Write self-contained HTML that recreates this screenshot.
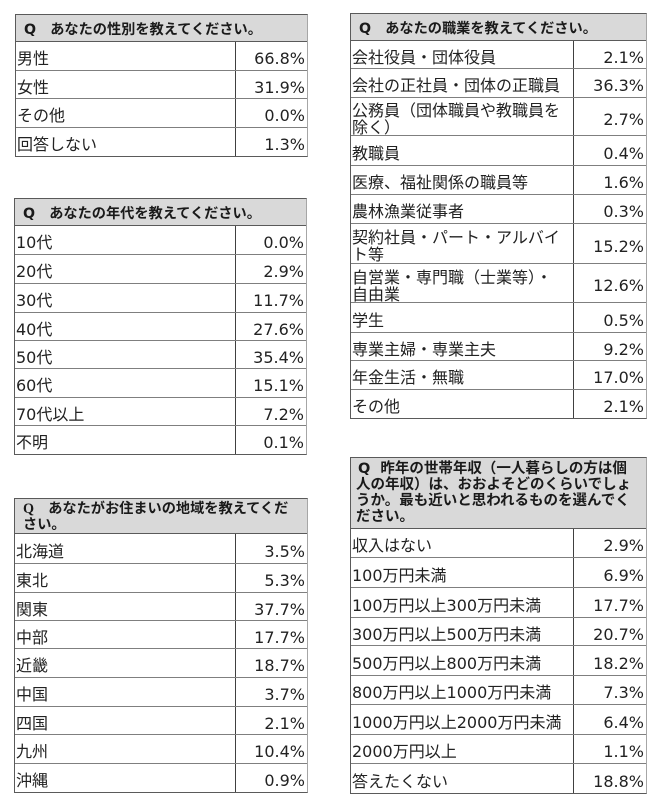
<!DOCTYPE html>
<html><head><meta charset="utf-8">
<style>
html,body{margin:0;padding:0}
body{width:661px;height:808px;background:#fff;position:relative;overflow:hidden;font-family:"DejaVu Sans","Noto Sans CJK JP",sans-serif;color:#222}
.t{position:absolute;box-sizing:border-box;border:1px solid #5a5a5a;border-right-color:#a6a6a6;background:#fff}
.h{box-sizing:border-box;background:#d9d9d9;font-weight:bold;font-size:14.2px;line-height:16px;display:flex;align-items:center;padding:3px 0 0 8px;white-space:nowrap;font-family:"DejaVu Sans","Noto Sans CJK JP",sans-serif;color:#1a1a1a}
.h2{align-items:flex-start;padding-top:2px}
.r{box-sizing:border-box;border-top:1px solid #7f7f7f;display:flex;font-size:16px;line-height:17px}
.r.f{border-top-color:#5a5a5a}
.l{box-sizing:border-box;width:var(--lw);padding:5px 0 0 1px;display:flex;align-items:center;white-space:nowrap}
.v{box-sizing:border-box;flex:1;border-left:1px solid #404040;padding:5px 2px 0 0;display:flex;align-items:center;justify-content:flex-end;white-space:nowrap}
.q{font-family:"Liberation Serif",serif;font-weight:bold}
</style></head><body>

<!-- Table 1: gender -->
<div class="t" style="left:15px;top:14px;width:293px;height:143px;--lw:219px">
 <div class="h" style="height:26px">Q　あなたの性別を教えてください。</div>
 <div class="r f" style="height:29px"><div class="l">男性</div><div class="v">66.8%</div></div>
 <div class="r" style="height:28px"><div class="l">女性</div><div class="v">31.9%</div></div>
 <div class="r" style="height:29px"><div class="l">その他</div><div class="v">0.0%</div></div>
 <div class="r" style="height:29px"><div class="l">回答しない</div><div class="v">1.3%</div></div>
</div>

<!-- Table 2: age -->
<div class="t" style="left:14px;top:198px;width:293px;height:257px;--lw:220px">
 <div class="h" style="height:26px">Q　あなたの年代を教えてください。</div>
 <div class="r f" style="height:29px"><div class="l">10代</div><div class="v">0.0%</div></div>
 <div class="r" style="height:29px"><div class="l">20代</div><div class="v">2.9%</div></div>
 <div class="r" style="height:29px"><div class="l">30代</div><div class="v">11.7%</div></div>
 <div class="r" style="height:28px"><div class="l">40代</div><div class="v">27.6%</div></div>
 <div class="r" style="height:28px"><div class="l">50代</div><div class="v">35.4%</div></div>
 <div class="r" style="height:29px"><div class="l">60代</div><div class="v">15.1%</div></div>
 <div class="r" style="height:28px"><div class="l">70代以上</div><div class="v">7.2%</div></div>
 <div class="r" style="height:29px"><div class="l">不明</div><div class="v">0.1%</div></div>
</div>

<!-- Table 3: region -->
<div class="t" style="left:14px;top:498px;width:294px;height:295px;--lw:220px">
 <div class="h h2" style="height:34px"><div><span class="q">Q</span>　あなたがお住まいの地域を教えてくだ<br>さい。</div></div>
 <div class="r f" style="height:30px"><div class="l">北海道</div><div class="v">3.5%</div></div>
 <div class="r" style="height:29px"><div class="l">東北</div><div class="v">5.3%</div></div>
 <div class="r" style="height:28px"><div class="l">関東</div><div class="v">37.7%</div></div>
 <div class="r" style="height:28px"><div class="l">中部</div><div class="v">17.7%</div></div>
 <div class="r" style="height:29px"><div class="l">近畿</div><div class="v">18.7%</div></div>
 <div class="r" style="height:29px"><div class="l">中国</div><div class="v">3.7%</div></div>
 <div class="r" style="height:28px"><div class="l">四国</div><div class="v">2.1%</div></div>
 <div class="r" style="height:29px"><div class="l">九州</div><div class="v">10.4%</div></div>
 <div class="r" style="height:29px"><div class="l">沖縄</div><div class="v">0.9%</div></div>
</div>

<!-- Table 4: occupation -->
<div class="t" style="left:350px;top:13px;width:297px;height:406px;--lw:222px">
 <div class="h" style="height:26px">Q　あなたの職業を教えてください。</div>
 <div class="r f" style="height:28px"><div class="l">会社役員・団体役員</div><div class="v">2.1%</div></div>
 <div class="r" style="height:29px"><div class="l">会社の正社員・団体の正職員</div><div class="v">36.3%</div></div>
 <div class="r" style="height:38px"><div class="l">公務員（団体職員や教職員を<br>除く）</div><div class="v">2.7%</div></div>
 <div class="r" style="height:30px"><div class="l">教職員</div><div class="v">0.4%</div></div>
 <div class="r" style="height:29px"><div class="l">医療、福祉関係の職員等</div><div class="v">1.6%</div></div>
 <div class="r" style="height:29px"><div class="l">農林漁業従事者</div><div class="v">0.3%</div></div>
 <div class="r" style="height:40px"><div class="l">契約社員・パート・アルバイ<br>ト等</div><div class="v">15.2%</div></div>
 <div class="r" style="height:39px"><div class="l">自営業・専門職（士業等）・<br>自由業</div><div class="v">12.6%</div></div>
 <div class="r" style="height:30px"><div class="l">学生</div><div class="v">0.5%</div></div>
 <div class="r" style="height:28px"><div class="l">専業主婦・専業主夫</div><div class="v">9.2%</div></div>
 <div class="r" style="height:29px"><div class="l">年金生活・無職</div><div class="v">17.0%</div></div>
 <div class="r" style="height:29px"><div class="l">その他</div><div class="v">2.1%</div></div>
</div>

<!-- Table 5: income -->
<div class="t" style="left:350px;top:457px;width:297px;height:337px;--lw:222px">
 <div class="h h2" style="height:70px;padding-left:5px;padding-top:3px;font-size:14.5px"><div><span style="margin-left:2px">Q</span>&nbsp;&nbsp;昨年の世帯年収（一人暮らしの方は個<br>人の年収）は、おおよそどのくらいでしょ<br>うか。最も近いと思われるものを選んでく<br>ださい。</div></div>
 <div class="r f" style="height:29px"><div class="l">収入はない</div><div class="v">2.9%</div></div>
 <div class="r" style="height:30px"><div class="l">100万円未満</div><div class="v">6.9%</div></div>
 <div class="r" style="height:30px"><div class="l">100万円以上300万円未満</div><div class="v">17.7%</div></div>
 <div class="r" style="height:28px"><div class="l">300万円以上500万円未満</div><div class="v">20.7%</div></div>
 <div class="r" style="height:30px"><div class="l">500万円以上800万円未満</div><div class="v">18.2%</div></div>
 <div class="r" style="height:29px"><div class="l">800万円以上1000万円未満</div><div class="v">7.3%</div></div>
 <div class="r" style="height:30px"><div class="l">1000万円以上2000万円未満</div><div class="v">6.4%</div></div>
 <div class="r" style="height:29px"><div class="l">2000万円以上</div><div class="v">1.1%</div></div>
 <div class="r" style="height:30px"><div class="l">答えたくない</div><div class="v">18.8%</div></div>
</div>

</body></html>
